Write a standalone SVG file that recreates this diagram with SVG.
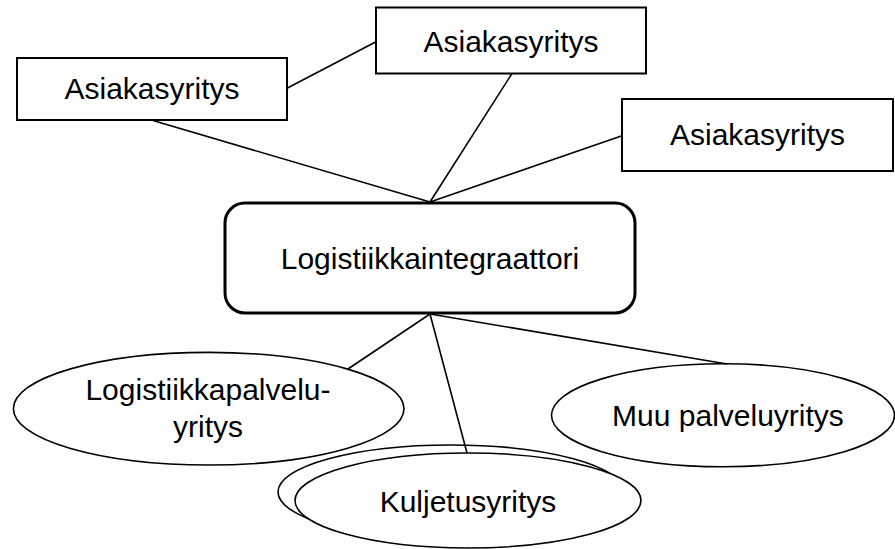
<svg xmlns="http://www.w3.org/2000/svg" width="895" height="549" viewBox="0 0 895 549">
<style>
.box{fill:#fff;stroke:#000;stroke-width:2}
.main{fill:#fff;stroke:#000;stroke-width:3}
.ell{fill:#fff;stroke:#000;stroke-width:1.6}
.con line{stroke:#000;stroke-width:1.6}
text{font-family:"Liberation Sans",Arial,sans-serif;font-size:30px;fill:#000;text-anchor:middle}
</style>
<rect width="895" height="549" fill="#fff"/>
<g id="asiakas1"><rect class="box" x="17" y="58" width="270" height="62"/><text x="152" y="98.5">Asiakasyritys</text></g>
<g id="asiakas2"><rect class="box" x="376" y="7.5" width="270" height="66"/><text x="511" y="51.5">Asiakasyritys</text></g>
<g id="asiakas3"><rect class="box" x="622" y="99" width="271" height="72"/><text x="757.5" y="145">Asiakasyritys</text></g>
<g id="integraattori"><rect class="main" x="225" y="203" width="410" height="110" rx="20" ry="20"/><text x="430" y="268.5">Logistiikkaintegraattori</text></g>
<g id="logistiikkapalvelu"><ellipse class="ell" cx="208.7" cy="408.7" rx="195.3" ry="56.3"/><text x="208" y="400">Logistiikkapalvelu-</text><text x="208" y="436.7">yritys</text></g>
<g id="muu"><ellipse class="ell" cx="723" cy="415.3" rx="171.5" ry="51.5"/><text x="728" y="425.5">Muu palveluyritys</text></g>
<g id="kuljetus"><ellipse class="ell" cx="451" cy="492" rx="173" ry="47"/><ellipse class="ell" cx="468" cy="500.5" rx="173" ry="47.5"/><text x="468" y="511.7">Kuljetusyritys</text></g>
<g id="connectors" class="con">
<line x1="287" y1="88.3" x2="376" y2="41.7"/>
<line x1="153" y1="120.5" x2="430" y2="202"/>
<line x1="512" y1="73.5" x2="430" y2="202"/>
<line x1="622" y1="135.7" x2="430" y2="202"/>
<line x1="430" y1="314" x2="348" y2="369"/>
<line x1="430" y1="314" x2="467" y2="453"/>
<line x1="430" y1="314" x2="727" y2="364"/>
</g>
</svg>
